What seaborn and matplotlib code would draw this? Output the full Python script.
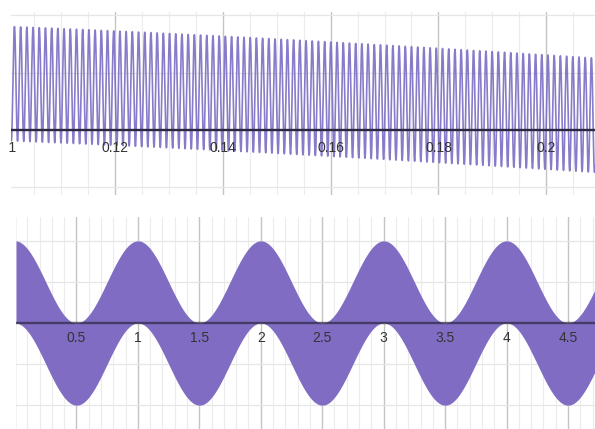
import numpy as np
import pandas as pd
import matplotlib.pyplot as plt
import seaborn as sns
from matplotlib.transforms import Bbox, TransformedBbox

# Función graficada: y = a/2*cos(2*pi*x/T) + a/2*sin(2*pi*f*x)
ancho_banda = 1.0
periodo_batido = 1.0
ciclos_por_unidad = 870

# Ventanas de cada panel
rango_x_arriba = [0.1008, 0.2090]
rango_y_arriba = [-0.57, 1.03]
rango_x_abajo = [0.008, 4.72]
rango_y_abajo = [-1.29, 1.29]

# Etiquetas del eje x
ticks_arriba = [0.10, 0.12, 0.14, 0.16, 0.18, 0.20]
etiquetas_arriba = ['0.1', '0.12', '0.14', '0.16', '0.18', '0.2']
ticks_abajo = [0.5, 1.0, 1.5, 2.0, 2.5, 3.0, 3.5, 4.0, 4.5]
etiquetas_abajo = ['0.5', '1', '1.5', '2', '2.5', '3', '3.5', '4', '4.5']

COLOR_CURVA = '#7b6dc3'
COLOR_RELLENO = '#806dc3'
COLOR_EJE = '#2b2840'


def funcion(x):
    lento = ancho_banda / 2 * np.cos(2 * np.pi * x / periodo_batido)
    rapido = ancho_banda / 2 * np.sin(2 * np.pi * ciclos_por_unidad * x)
    return lento + rapido


def cuadricula(ax, rx, ry, paso_mayor, paso_menor, paso_y):
    for xv in np.arange(np.floor(rx[0] / paso_menor) * paso_menor, rx[1] + paso_menor, paso_menor):
        es_mayor = abs(xv / paso_mayor - round(xv / paso_mayor)) < 1e-6
        ax.axvline(xv, color='#c4c4c4' if es_mayor else '#ececec',
                   lw=1.0 if es_mayor else 0.8, zorder=0)
    for yv in np.arange(np.floor(ry[0] / paso_y) * paso_y, ry[1] + paso_y, paso_y):
        ax.axhline(yv, color='#e6e6e6', lw=0.9, zorder=0)


def etiquetas(ax, ticks, textos, desplazamiento, recorte):
    for t, s in zip(ticks, textos):
        a = ax.annotate(s, xy=(t, 0), xytext=(0, -desplazamiento), textcoords='offset points',
                        ha='center', va='center', fontsize=10, color='#333333',
                        annotation_clip=False, zorder=5)
        a.set_clip_box(recorte)
        a.set_clip_on(True)


sns.set_theme(style='white')
plt.rcParams['font.family'] = ['Liberation Sans', 'DejaVu Sans']

fig = plt.figure(figsize=(5.95, 4.29), dpi=100)
ax1 = fig.add_axes([11 / 595, 1 - 195 / 429, 1 - 11 / 595, 183 / 429])
ax2 = fig.add_axes([16 / 595, 0, 1 - 16 / 595, 212 / 429])
recorte_arriba = TransformedBbox(Bbox.from_extents(9 / 595, 0, 1, 1), fig.transFigure)
recorte_abajo = TransformedBbox(Bbox.from_extents(16 / 595, 0, 1, 1), fig.transFigure)

# Panel superior: oscilación resuelta
x1 = np.linspace(rango_x_arriba[0], rango_x_arriba[1], 30000)
df1 = pd.DataFrame({'x': x1, 'y': funcion(x1)})
sns.lineplot(data=df1, x='x', y='y', ax=ax1, color=COLOR_CURVA, lw=1.2, alpha=0.9,
             estimator=None, sort=False, zorder=2)
cuadricula(ax1, rango_x_arriba, rango_y_arriba, 0.02, 0.005, 0.5)
ax1.axhline(0, color=COLOR_EJE, lw=1.7, zorder=3)
etiquetas(ax1, ticks_arriba, etiquetas_arriba, 13, recorte_arriba)

# Panel inferior: banda rellena (oscilación demasiado rápida para resolverse)
x2 = np.linspace(rango_x_abajo[0], rango_x_abajo[1], 4000)
centro = ancho_banda / 2 * np.cos(2 * np.pi * x2 / periodo_batido)
ax2.fill_between(x2, centro - ancho_banda / 2, centro + ancho_banda / 2,
                 color=COLOR_RELLENO, lw=0, zorder=2)
cuadricula(ax2, rango_x_abajo, rango_y_abajo, 0.5, 0.1, 0.5)
ax2.axhline(0, color=COLOR_EJE, lw=1.7, alpha=0.7, zorder=3)
etiquetas(ax2, ticks_abajo, etiquetas_abajo, 11, recorte_abajo)

for ax, rx, ry in [(ax1, rango_x_arriba, rango_y_arriba), (ax2, rango_x_abajo, rango_y_abajo)]:
    ax.set_xlim(*rx)
    ax.set_ylim(*ry)
    ax.set_xticks([])
    ax.set_yticks([])
    ax.set_xlabel('')
    ax.set_ylabel('')
    for sp in ax.spines.values():
        sp.set_visible(False)

fig.savefig('out.png', dpi=100)
